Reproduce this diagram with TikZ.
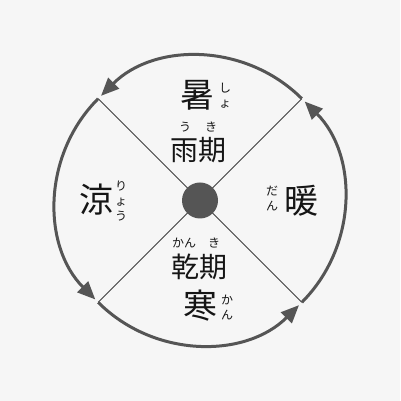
\documentclass[tikz,border=0pt]{standalone}
\usepackage{fontspec}
\newfontfamily\cjk{Noto Sans CJK JP}
\usetikzlibrary{arrows.meta,calc}
\definecolor{bgc}{HTML}{F6F6F6}
\definecolor{ringc}{HTML}{555555}
\definecolor{spokec}{HTML}{404040}
\definecolor{inkc}{HTML}{151515}
\begin{document}
\begin{tikzpicture}[x=1pt,y=1pt,
  big/.style={font=\cjk\fontsize{34}{34}\selectfont, text=inkc, inner sep=0pt},
  mid/.style={font=\cjk\fontsize{28}{28}\selectfont, text=inkc, inner sep=0pt},
  ruby/.style={font=\cjk\fontsize{12}{15}\selectfont, text=inkc, inner sep=0pt, align=center},
  ringarc/.style={line width=3pt, draw=ringc, shorten >=4pt, -{Triangle[length=18pt,width=15pt]}},
  spoke/.style={line width=0.8pt, draw=spokec}]
\fill[bgc] (0,0) rectangle (400,401);
\useasboundingbox (0,0) rectangle (400,401);
\coordinate (C) at (200,200.5);
\coordinate (p1) at ($(C)+(45:144)$);
\coordinate (p2) at ($(C)+(135:144)$);
\coordinate (p3) at ($(C)+(225:144)$);
\coordinate (p4) at ($(C)+(315:144)$);
\draw[spoke] (C) -- (p1);
\draw[spoke] (C) -- (p2);
\draw[spoke] (C) -- (p3);
\draw[spoke] (C) -- (p4);
\draw[ringarc] (p1) arc[start angle=45, end angle=135, radius=144];
\draw[ringarc] (p2) arc[start angle=135, end angle=225, radius=144];
\draw[ringarc] (p3) arc[start angle=225, end angle=315, radius=144];
\draw[ringarc] (p4) arc[start angle=315, end angle=405, radius=144];
\node[circle, fill=ringc, minimum size=36pt, inner sep=0pt] (dot) at (C) {};
% top
\node[big] (sho) at (197,306) {暑};
\node[ruby] (shor) at (225,305) {し\\ょ};
\node[mid] (uki) at (198,251) {雨期};
\node[ruby] (ur) at (185,274) {う};
\node[ruby] (kir) at (211,274) {き};
% left
\node[big] (ryo) at (96,201) {涼};
\node[ruby] (ryor) at (121,200) {り\\ょ\\う};
% right
\node[big] (dan) at (301,200) {暖};
\node[ruby] (danr) at (272,202) {だ\\ん};
% bottom
\node[mid] (kanki) at (199,134) {乾期};
\node[ruby] (kanr) at (184,158) {かん};
\node[ruby] (ki2r) at (214,158) {き};
\node[big] (kan) at (200,95) {寒};
\node[ruby] (kan2r) at (227,94) {か\\ん};
\end{tikzpicture}
\end{document}
